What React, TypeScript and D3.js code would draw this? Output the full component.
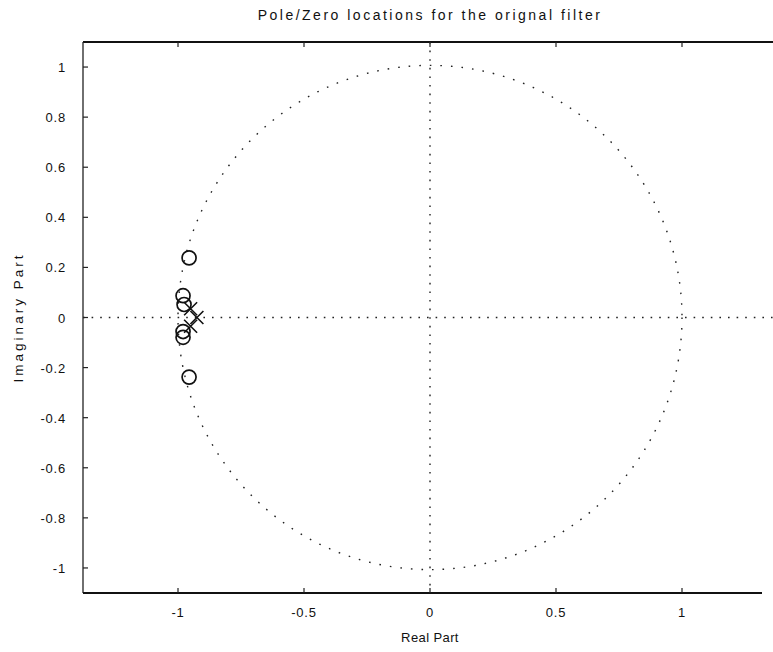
import React from "react";
import * as d3 from "d3";

// Zeros (o) and poles (x) of the filter, as [real, imag]
const zerosRe = [-0.956, -0.956, -0.98, -0.976, -0.98, -0.98];
const zerosIm = [0.238, -0.238, 0.087, 0.052, -0.056, -0.079];
const polesRe = [-0.925, -0.95, -0.95];
const polesIm = [0.0, 0.035, -0.035];

const xTicks = [-1, -0.5, 0, 0.5, 1];
const yTicks = [1, 0.8, 0.6, 0.4, 0.2, 0, -0.2, -0.4, -0.6, -0.8, -1];

const titleText = "Pole/Zero locations for the orignal filter";
const xLabel = "Real Part";
const yLabel = "Imaginary Part";

const W = 773;
const H = 652;
const left = 83;
const top = 42;
const bottom = 593;

const x = d3.scaleLinear().domain([-1.377, 1.353]).range([left, 430 + 1.353 * 252]);
const y = d3.scaleLinear().domain([-1.1, 1.1]).range([bottom, top]);

const fmt = (v: number) => (v === 0 ? "0" : String(v));

export default function App() {
  const font = "'Liberation Sans', Arial, Helvetica, sans-serif";
  const circlePath = d3.path();
  const cx = x(0);
  const cy = y(0);
  const r = x(1) - x(0);
  circlePath.arc(cx, cy, r, 0, Math.PI * 2);

  const zeros = zerosRe.map((re, i) => [re, zerosIm[i]]);
  const poles = polesRe.map((re, i) => [re, polesIm[i]]);
  const s = 6.5;

  return (
    <svg
      width={W}
      height={H}
      style={{ position: "absolute", left: 0, top: 0, background: "#fff" }}
      fontFamily={font}
    >
      <rect width={W} height={H} fill="#fff" />
      {/* title */}
      <text x={430} y={20} textAnchor="middle" fontSize={14} letterSpacing={2.5} fill="#111">
        {titleText}
      </text>

      {/* frame */}
      <line x1={left} x2={W} y1={top} y2={top} stroke="#111" strokeWidth={1.8} />
      <line x1={left} x2={left} y1={top} y2={bottom} stroke="#222" strokeWidth={1.3} />
      <line x1={left} x2={762} y1={bottom} y2={bottom} stroke="#111" strokeWidth={1.8} />

      {/* x ticks */}
      {xTicks.map((t) => (
        <g key={"xt" + t}>
          <line x1={x(t)} x2={x(t)} y1={bottom} y2={bottom - 5} stroke="#222" strokeWidth={1.2} />
          <line x1={x(t)} x2={x(t)} y1={top} y2={top + 5} stroke="#222" strokeWidth={1.2} />
          <text x={x(t)} y={bottom + 24} textAnchor="middle" fontSize={13} letterSpacing={0.8} fill="#111">
            {fmt(t)}
          </text>
        </g>
      ))}

      {/* y ticks */}
      {yTicks.map((t) => (
        <g key={"yt" + t}>
          <line x1={left} x2={left + 5} y1={y(t)} y2={y(t)} stroke="#222" strokeWidth={1.2} />
          <text x={left - 17} y={y(t) + 5} textAnchor="end" fontSize={13} letterSpacing={0.8} fill="#111">
            {fmt(t)}
          </text>
        </g>
      ))}

      {/* axis labels */}
      <text x={430} y={642} textAnchor="middle" fontSize={13} letterSpacing={0.4} fill="#111">
        {xLabel}
      </text>
      <text
        transform={`translate(23, ${y(0)}) rotate(-90)`}
        textAnchor="middle"
        fontSize={13.5}
        letterSpacing={3}
        fill="#111"
      >
        {yLabel}
      </text>

      {/* unit circle and reference axes, dotted */}
      <path d={circlePath.toString()} fill="none" stroke="#222" strokeWidth={1.4} strokeDasharray="1.6,9" />
      <line x1={left} x2={W} y1={y(0)} y2={y(0)} stroke="#222" strokeWidth={1.4} strokeDasharray="1.6,7" />
      <line x1={x(0)} x2={x(0)} y1={top} y2={bottom} stroke="#222" strokeWidth={1.4} strokeDasharray="1.6,7" />

      {/* zeros */}
      {zeros.map(([re, im], i) => (
        <circle key={"z" + i} cx={x(re)} cy={y(im)} r={7} fill="none" stroke="#111" strokeWidth={1.7} />
      ))}

      {/* poles */}
      {poles.map(([re, im], i) => (
        <path
          key={"p" + i}
          d={`M${x(re) - s},${y(im) - s}L${x(re) + s},${y(im) + s}M${x(re) - s},${y(im) + s}L${x(re) + s},${y(im) - s}`}
          stroke="#111"
          strokeWidth={1.6}
          fill="none"
        />
      ))}
    </svg>
  );
}
